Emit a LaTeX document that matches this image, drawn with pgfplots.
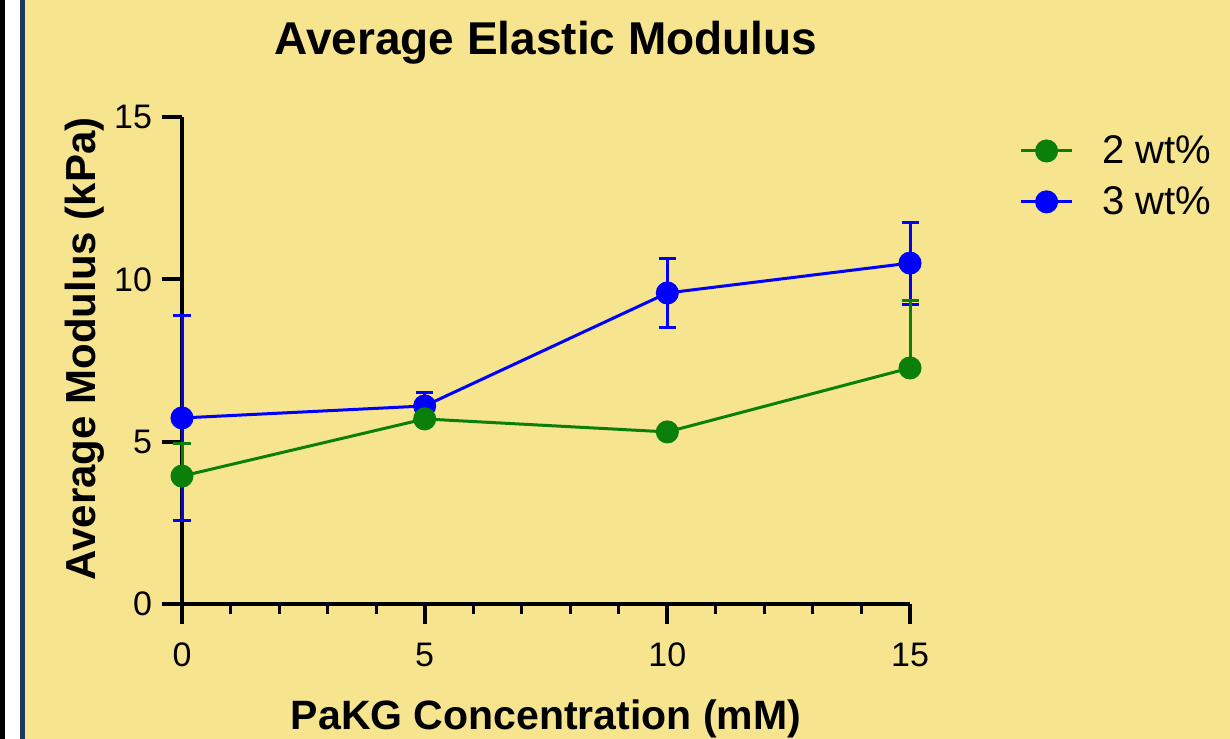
\documentclass[border=0pt]{standalone}
\usepackage{pgfplots}
\pgfplotsset{compat=1.18}
\usepackage{fontspec}
\setmainfont{Liberation Sans}
\definecolor{bg}{HTML}{F6E48E}
\definecolor{navy}{HTML}{1E375A}
\definecolor{gser}{RGB}{10,128,10}
\definecolor{bser}{RGB}{0,0,255}
\begin{document}
\begin{tikzpicture}
\fill[bg] (0,0) rectangle (615bp,369.5bp);
\fill[black] (0,0) rectangle (2.5bp,369.5bp);
\fill[white] (2.5bp,0) rectangle (10bp,369.5bp);
\fill[navy] (10bp,0) rectangle (12.5bp,369.5bp);
\useasboundingbox (0,0) rectangle (615bp,369.5bp);
\begin{axis}[
  at={(91bp,67.5bp)}, anchor=south west,
  scale only axis, width=364bp, height=243.5bp,
  xmin=0, xmax=15, ymin=0, ymax=15, enlargelimits=false,
  clip=false,
  axis x line*=bottom, axis y line*=left,
  hide obscured x ticks=false, hide obscured y ticks=false,
  axis line style={line width=2bp,-},
  every tick/.style={line width=2bp,black},
  minor tick style={line width=1.5bp},
  tick align=outside,
  major tick length=10bp, minor tick length=5bp,
  xtick={0,5,10,15}, ytick={0,5,10,15},
  minor x tick num=4,
  /pgf/number format/assume math mode=true,
  tick label style={font=\fontsize{17bp}{20bp}\selectfont, text=black},
  x tick label style={yshift=-6bp},
  y tick label style={xshift=-1.5bp},
  title={\textbf{Average Elastic Modulus}},
  title style={font=\fontsize{23bp}{27bp}\selectfont, at={(axis description cs:0.5,1)}, anchor=center, yshift=31bp},
  xlabel={\textbf{PaKG Concentration (mM)}},
  xlabel style={font=\fontsize{20.5bp}{24bp}\selectfont, at={(axis description cs:0.5,0)}, anchor=center, yshift=-57.5bp},
  ylabel={\textbf{Average Modulus (kPa)}},
  ylabel style={font=\fontsize{21bp}{24bp}\selectfont, at={(axis description cs:0,0.524)}, anchor=center, yshift=48.5bp},
  legend style={draw=none, fill=none, at={(axis description cs:1.15,0.971)}, anchor=north west,
    font=\fontsize{20bp}{23bp}\selectfont, row sep=6bp, inner sep=0pt},
  legend cell align=left,
  reverse legend,
  legend image code/.code={\draw[mark repeat=2,mark phase=2] plot coordinates {(0bp,0bp) (12.75bp,0bp) (25.5bp,0bp)};\path (38bp,0bp);},
]
\addplot[bser, line width=1.5bp, mark=*, mark size=5bp, mark options={solid,fill=bser},
  error bars/.cd, y dir=both, y explicit,
  error bar style={line width=1.5bp},
  error mark options={rotate=90, mark size=4.25bp, line width=1.5bp}]
  coordinates {(0,5.73) +- (0,3.15) (5,6.1) +- (0,0.4) (10,9.58) +- (0,1.07) (15,10.5) +- (0,1.26)};
\addlegendentry{3 wt\%}
\addplot[gser, line width=1.5bp, mark=*, mark size=5bp, mark options={solid,fill=gser},
  error bars/.cd, y dir=plus, y explicit,
  error bar style={line width=1.5bp},
  error mark options={rotate=90, mark size=4.25bp, line width=1.5bp}]
  coordinates {(0,3.94) +- (0,1.0) (5,5.7) +- (0,0.15) (10,5.3) +- (0,0.1) (15,7.27) +- (0,2.09)};
\addlegendentry{2 wt\%}
\end{axis}
\end{tikzpicture}
\end{document}
